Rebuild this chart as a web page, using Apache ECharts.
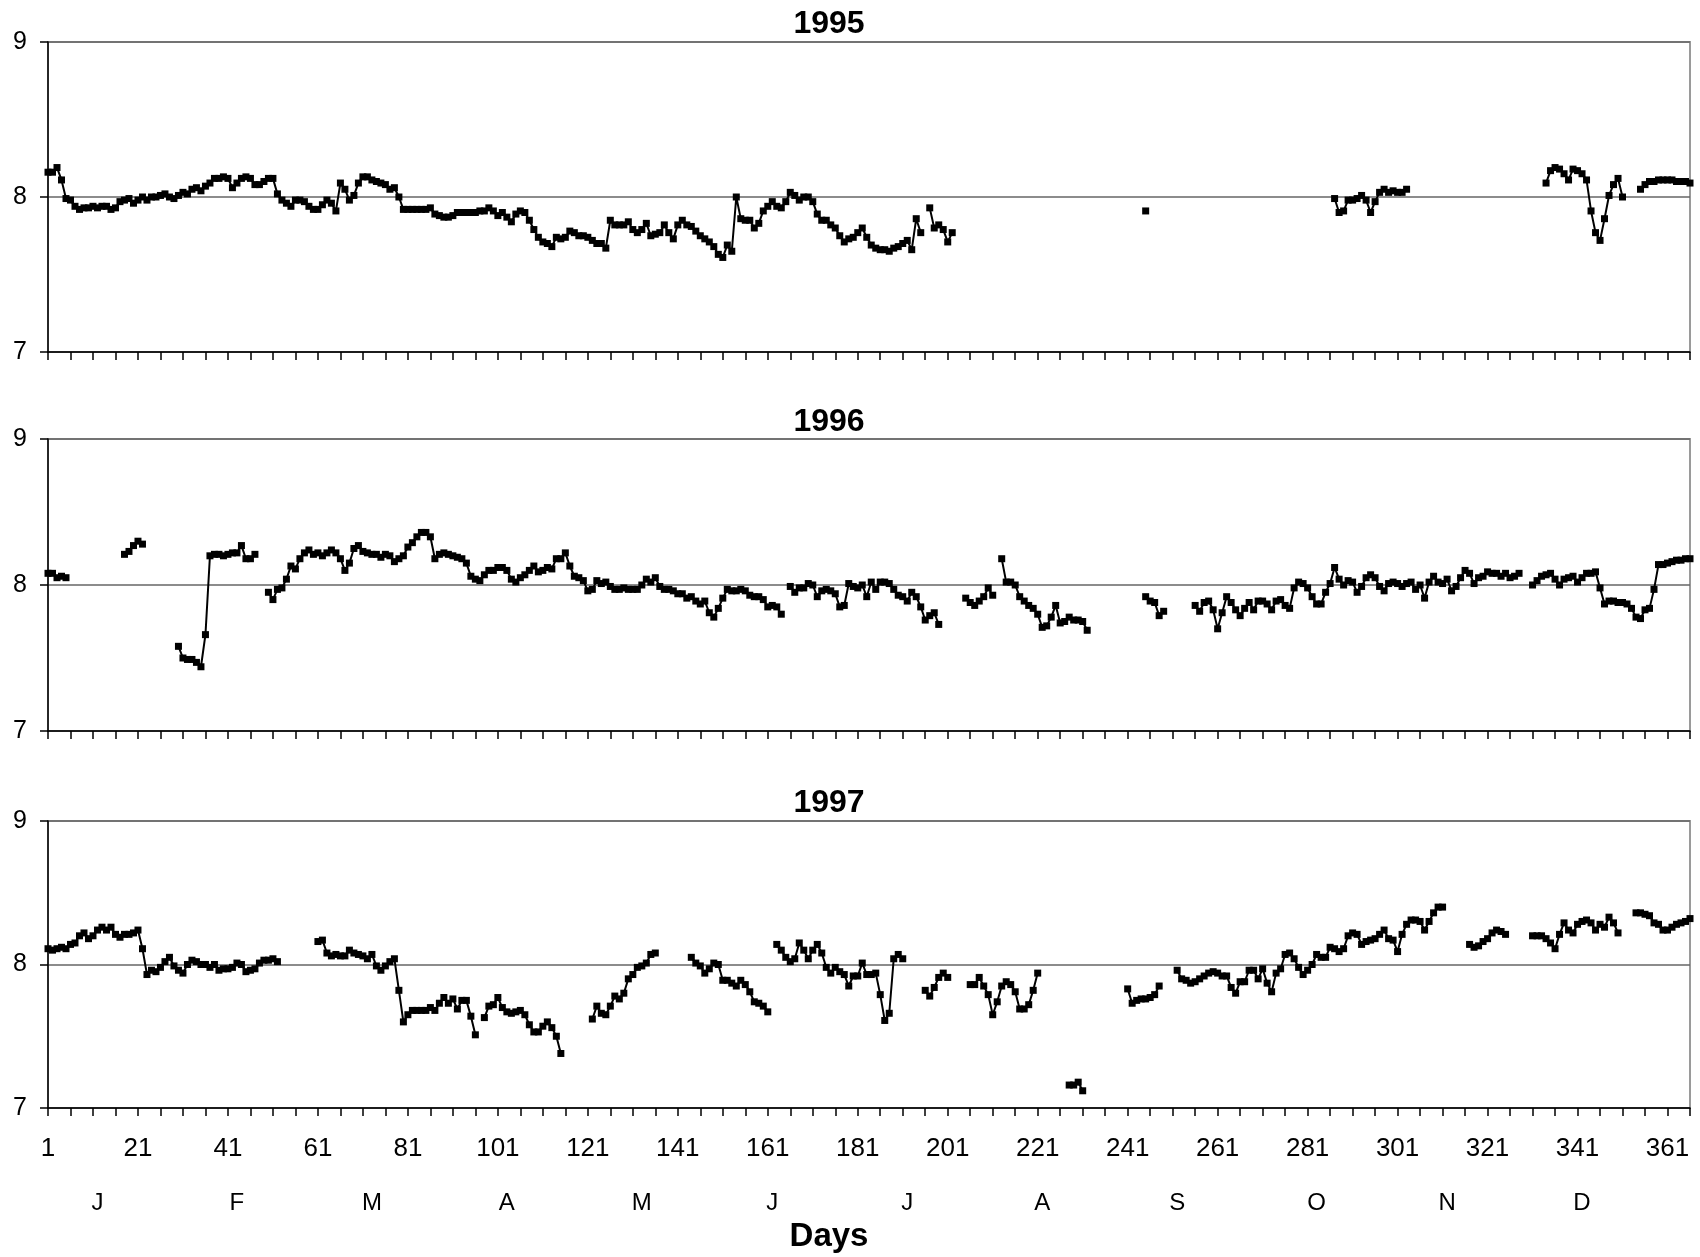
<!DOCTYPE html>
<html>
<head>
<meta charset="utf-8">
<script src="https://cdn.jsdelivr.net/npm/echarts@6/dist/echarts.min.js"></script>
<style>
html,body{margin:0;padding:0;background:#fff;}
#chart{width:1700px;height:1257px;}
</style>
</head>
<body>
<div id="chart"></div>
<script>
// ---- data: each run = [first day, values for consecutive days] ----
const yearTitles = ['1995', '1996', '1997'];
const monthLetters = ['J','F','M','A','M','J','J','A','S','O','N','D'];
const monthLabelDays = [12, 43, 73, 103, 133, 162, 192, 222, 252, 283, 312, 342];
const yTicks = [7, 8, 9];

const runs1995 = [
  [1, [8.16,8.16,8.19,8.11,7.99,7.98,7.94,7.92,7.93,7.93,
       7.94,7.93,7.94,7.94,7.92,7.93,7.97,7.98,7.99,7.96,
       7.98,8.00,7.98,8.00,8.00,8.01,8.02,8.00,7.99,8.01,
       8.03,8.02,8.05,8.06,8.04,8.07,8.09,8.12,8.12,8.13,
       8.12,8.06,8.09,8.12,8.13,8.12,8.08,8.08,8.10,8.12,
       8.12,8.02,7.98,7.96,7.94,7.98,7.98,7.97,7.94,7.92,
       7.92,7.95,7.98,7.96,7.91,8.09,8.05,7.98,8.01,8.09,
       8.13,8.13,8.11,8.10,8.09,8.08,8.05,8.06,8.00,7.92,
       7.92,7.92,7.92,7.92,7.92,7.93,7.89,7.88,7.87,7.87,
       7.88,7.90,7.90,7.90,7.90,7.90,7.91,7.91,7.93,7.91,
       7.88,7.90,7.87,7.84,7.89,7.91,7.90,7.85,7.79,7.74,
       7.71,7.70,7.68,7.74,7.73,7.74,7.78,7.77,7.75,7.75,
       7.74,7.72,7.70,7.70,7.67,7.85,7.82,7.82,7.82,7.84,
       7.79,7.77,7.79,7.83,7.75,7.76,7.77,7.82,7.77,7.73,
       7.82,7.85,7.82,7.81,7.78,7.75,7.73,7.71,7.68,7.63,
       7.61,7.69,7.65,8.00,7.86,7.85,7.85,7.80,7.83,7.91,
       7.94,7.97,7.94,7.93,7.97,8.03,8.01,7.98,8.00,8.00,
       7.97,7.89,7.85,7.85,7.82,7.80,7.75,7.71,7.73,7.74,
       7.77,7.80,7.74,7.69,7.67,7.66,7.66,7.65,7.67,7.68,
       7.70,7.72,7.66,7.86,7.77]],
  [197, [7.93,7.80,7.82,7.79,7.71,7.77]],
  [245, [7.91]],
  [287, [7.99,7.90,7.91,7.98,7.98,7.99,8.01,7.98,7.90,7.97,8.03,8.05,8.03,8.04,8.03,8.03,8.05]],
  [334, [8.09,8.17,8.19,8.18,8.15,8.11,8.18,8.17,8.15,8.11,7.91,7.77,7.72,7.86,8.01,8.08,8.12,8.00]],
  [355, [8.05,8.08,8.10,8.10,8.11,8.11,8.11,8.11,8.10,8.10,8.10,8.09]]
];

const runs1996 = [
  [1, [8.08,8.08,8.05,8.06,8.05]],
  [18, [8.21,8.23,8.27,8.30,8.28]],
  [30, [7.58,7.50,7.49,7.49,7.47,7.44,7.66,8.20,8.21,8.21,8.20,8.21,8.22,8.22,8.27,8.18,8.18,8.21]],
  [50, [7.95,7.90,7.97,7.98,8.04,8.13,8.11,8.18,8.22,8.24,
        8.21,8.22,8.20,8.22,8.24,8.22,8.18,8.10,8.15,8.25,
        8.27,8.23,8.22,8.21,8.21,8.19,8.21,8.20,8.16,8.18,
        8.20,8.26,8.29,8.33,8.36,8.36,8.33,8.18,8.21,8.22,
        8.21,8.20,8.19,8.18,8.15,8.06,8.04,8.03,8.07,8.10,
        8.10,8.12,8.12,8.10,8.04,8.02,8.05,8.07,8.10,8.13,
        8.09,8.10,8.12,8.11,8.18,8.18,8.22,8.13,8.06,8.05,
        8.03,7.96,7.97,8.03,8.01,8.02,7.99,7.97,7.97,7.98,
        7.97,7.97,7.97,8.00,8.04,8.02,8.05,7.99,7.97,7.97,
        7.96,7.94,7.94,7.91,7.92,7.89,7.87,7.89,7.81,7.78,
        7.84,7.91,7.97,7.96,7.96,7.97,7.96,7.93,7.92,7.92,
        7.90,7.85,7.86,7.85,7.80]],
  [166, [7.99,7.95,7.98,7.98,8.01,8.00,7.92,7.96,7.97,7.96,
         7.94,7.85,7.86,8.01,7.99,7.98,8.00,7.92,8.02,7.97,
         8.02,8.02,8.01,7.97,7.93,7.92,7.89,7.95,7.92,7.85,
         7.76,7.79,7.81,7.73]],
  [205, [7.91,7.88,7.86,7.89,7.92,7.98,7.93]],
  [213, [8.18,8.02,8.02,8.00,7.92,7.89,7.86,7.84,7.80,7.71,
         7.72,7.78,7.86,7.74,7.75,7.78,7.76,7.76,7.75,7.69]],
  [245, [7.92,7.89,7.88,7.79,7.82]],
  [256, [7.86,7.82,7.88,7.89,7.83,7.70,7.81,7.92,7.88,7.83,
         7.79,7.84,7.88,7.83,7.89,7.89,7.87,7.83,7.89,7.90,
         7.86,7.84,7.98,8.02,8.01,7.98,7.92,7.87,7.87,7.95,
         8.01,8.12,8.04,8.00,8.03,8.02,7.95,7.99,8.05,8.07,
         8.05,7.99,7.96,8.01,8.02,8.01,7.99,8.01,8.02,7.97,
         8.00,7.91,8.02,8.06,8.02,8.01,8.04,7.96,7.99,8.05,
         8.10,8.08,8.01,8.05,8.06,8.09,8.08,8.08,8.06,8.08,
         8.05,8.06,8.08]],
  [331, [8.00,8.03,8.06,8.07,8.08,8.04,8.00,8.04,8.05,8.06,
         8.02,8.05,8.08,8.08,8.09,7.98,7.87,7.89,7.89,7.88,
         7.88,7.87,7.84,7.78,7.77,7.83,7.84,7.97,8.14,8.14,
         8.15,8.16,8.17,8.17,8.18,8.18]]
];

const runs1997 = [
  [1, [8.11,8.10,8.11,8.12,8.11,8.14,8.15,8.20,8.22,8.18,
       8.20,8.24,8.26,8.24,8.26,8.21,8.19,8.21,8.21,8.22,
       8.24,8.11,7.93,7.96,7.95,7.98,8.02,8.05,7.99,7.96,
       7.94,8.00,8.03,8.02,8.00,8.00,7.98,8.00,7.96,7.97,
       7.97,7.98,8.01,8.00,7.95,7.96,7.97,8.01,8.03,8.03,
       8.04,8.02]],
  [61, [8.16,8.17,8.08,8.06,8.07,8.06,8.06,8.10,8.08,8.07,
        8.06,8.04,8.07,7.99,7.96,7.99,8.02,8.04,7.82,7.60,
        7.65,7.68,7.68,7.68,7.68,7.70,7.68,7.73,7.77,7.73,
        7.76,7.69,7.75,7.75,7.64,7.51]],
  [98, [7.63,7.71,7.72,7.77,7.70,7.67,7.66,7.67,7.68,7.65,
        7.58,7.53,7.53,7.57,7.60,7.56,7.50,7.38]],
  [122, [7.62,7.71,7.66,7.65,7.71,7.78,7.76,7.80,7.90,7.93,7.98,7.99,8.01,8.07,8.08]],
  [144, [8.05,8.01,7.99,7.94,7.97,8.01,8.00,7.89,7.89,7.87,7.85,7.89,7.86,7.81,7.74,7.73,7.71,7.67]],
  [163, [8.14,8.10,8.05,8.02,8.04,8.15,8.10,8.04,8.10,8.14,
         8.08,7.98,7.94,7.98,7.95,7.93,7.85,7.92,7.92,8.01,
         7.93,7.93,7.94,7.79,7.61,7.66,8.04,8.07,8.04]],
  [196, [7.82,7.78,7.84,7.91,7.94,7.91]],
  [206, [7.86,7.86,7.91,7.85,7.79,7.65,7.74,7.85,7.88,7.86,7.81,7.69,7.69,7.72,7.82,7.94]],
  [228, [7.16,7.16,7.18,7.12]],
  [241, [7.83,7.73,7.75,7.76,7.76,7.77,7.79,7.85]],
  [252, [7.96,7.90,7.89,7.87,7.88,7.90,7.92,7.94,7.95,7.94,
         7.92,7.92,7.84,7.80,7.88,7.88,7.96,7.96,7.90,7.97,
         7.87,7.81,7.94,7.97,8.07,8.08,8.04,7.98,7.93,7.96,
         8.00,8.07,8.05,8.05,8.12,8.11,8.09,8.11,8.20,8.22,
         8.21,8.14,8.16,8.17,8.18,8.21,8.24,8.18,8.17,8.09,
         8.21,8.28,8.31,8.31,8.30,8.24,8.30,8.36,8.40,8.40]],
  [317, [8.14,8.12,8.13,8.16,8.18,8.22,8.24,8.23,8.21]],
  [331, [8.20,8.20,8.20,8.18,8.15,8.11,8.21,8.29,8.24,8.22,
         8.28,8.30,8.31,8.29,8.24,8.28,8.26,8.33,8.29,8.22]],
  [354, [8.36,8.36,8.35,8.34,8.29,8.28,8.24,8.24,8.26,8.28,8.29,8.30,8.32]]
];

// ---- build ----
const NDAYS = 366;
const days = [];
for (let d = 1; d <= NDAYS; d++) days.push(String(d));

function expand(runs) {
  const out = new Array(NDAYS).fill(null);
  runs.forEach(([start, vals]) => {
    vals.forEach((v, i) => { out[start - 1 + i] = v; });
  });
  return out;
}
const seriesData = [expand(runs1995), expand(runs1996), expand(runs1997)];

const FONT = "'Liberation Sans', Arial, sans-serif";
const gridTops = [42, 439, 821];
const gridHeights = [310, 292, 287];
const titleTops = [8, 406, 787];

const grids = [], xAxes = [], yAxes = [], series = [], titles = [];
for (let i = 0; i < 3; i++) {
  grids.push({
    left: 48, right: 10, top: gridTops[i], height: gridHeights[i],
    show: true, borderColor: '#9a9a9a', borderWidth: 2, backgroundColor: '#fff'
  });
  xAxes.push({
    type: 'category', gridIndex: i, data: days, boundaryGap: false,
    axisLine: { lineStyle: { color: '#000', width: 1.5 } },
    axisTick: { interval: 4, length: 8, lineStyle: { color: '#000', width: 1.5 } },
    axisLabel: {
      show: i === 2, interval: 19, fontSize: 26, color: '#000',
      fontFamily: FONT, margin: 28
    },
    splitLine: { show: false }
  });
  yAxes.push({
    type: 'value', gridIndex: i, min: yTicks[0], max: yTicks[2], interval: 1,
    axisLine: { show: true, lineStyle: { color: '#000', width: 1.5 } },
    axisTick: { show: true, length: 8, lineStyle: { color: '#000', width: 1.5 } },
    axisLabel: { fontSize: 25, color: '#000', fontFamily: FONT, margin: 21 },
    splitLine: { show: true, lineStyle: { color: '#666', width: 1.5 } }
  });
  series.push({
    type: 'line', xAxisIndex: i, yAxisIndex: i, data: seriesData[i],
    connectNulls: false, showAllSymbol: true, showSymbol: true,
    symbol: 'rect', symbolSize: 7,
    itemStyle: { color: '#000' },
    lineStyle: { color: '#000', width: 2 },
    emphasis: { disabled: true }, z: 5
  });
  titles.push({
    text: yearTitles[i], left: 829, top: titleTops[i], textAlign: 'center', padding: 0,
    textStyle: { fontSize: 32, fontWeight: 'bold', color: '#000', fontFamily: FONT }
  });
}
// month letters under the bottom panel
xAxes.push({
  type: 'category', gridIndex: 2, data: days, boundaryGap: false,
  position: 'bottom', offset: 80,
  axisLine: { show: false }, axisTick: { show: false }, splitLine: { show: false },
  axisLabel: {
    interval: (idx) => monthLabelDays.indexOf(idx + 1) >= 0,
    formatter: (v) => monthLetters[monthLabelDays.indexOf(Number(v))] || '',
    fontSize: 24, color: '#000', fontFamily: FONT, margin: 3
  }
});
titles.push({
  text: 'Days', left: 829, top: 1220, textAlign: 'center', padding: 0,
  textStyle: { fontSize: 33, fontWeight: 'bold', color: '#000', fontFamily: FONT }
});

const chart = echarts.init(document.getElementById('chart'), null, { renderer: 'canvas' });
chart.setOption({
  animation: false,
  backgroundColor: '#fff',
  title: titles,
  grid: grids,
  xAxis: xAxes,
  yAxis: yAxes,
  series: series
});
</script>
</body>
</html>
